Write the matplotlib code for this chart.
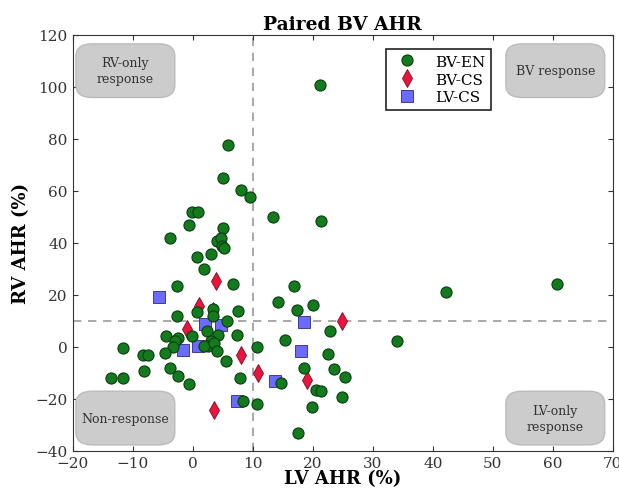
import matplotlib
matplotlib.use("Agg")
import matplotlib.pyplot as plt
from matplotlib.patches import FancyBboxPatch

# LV / RV acute haemodynamic response (%) per group
bv_en_x = [21.2, 5.9, 5.1, 8.0, 9.5, -0.2, 0.9, 13.4, 21.3, -0.7, 5.0, -3.8,
           4.0, 4.7, 4.8, 5.2, 0.7, 3.0, 1.9, 6.7, -2.7, 16.9, 14.2, 17.3,
           20.1, 3.4, 3.4, 7.6, 0.7, -2.7, 5.7, 2.3, -4.5, -0.2, -2.4, -3.0,
           4.2, 7.4, 3.0, 2.6, 1.8, 3.6, 15.3, 10.7, -11.6, -3.3, 4.0, -8.3,
           -7.4, -4.6, 22.5, 5.5, 22.9, -3.8, -8.1, 18.6, 23.5, -2.4, -13.7,
           -11.6, 7.8, 25.4, -0.7, 14.7, 20.6, 21.3, 24.8, 8.3, 10.7, 19.9,
           17.6, 42.2, 60.7, 34.0]
bv_en_y = [100.6, 77.7, 64.8, 60.3, 57.5, 51.7, 51.7, 50.0, 48.5, 46.8, 45.7,
           41.8, 40.5, 41.8, 38.9, 38.0, 34.6, 35.7, 29.9, 24.1, 23.5, 23.2,
           17.3, 14.1, 16.2, 14.5, 11.7, 13.7, 13.2, 11.7, 10.0, 6.2, 4.0,
           4.0, 3.2, 2.3, 4.5, 4.5, 2.3, 0.4, 0.2, 1.3, 2.7, -0.3, -0.5, 0.0,
           -1.8, -3.2, -3.2, -2.4, -3.0, -5.4, 6.1, -8.2, -9.5, -8.2, -8.6,
           -11.2, -12.0, -12.0, -12.0, -11.5, -14.3, -14.0, -16.8, -17.2,
           -19.2, -21.0, -22.0, -23.1, -33.2, 20.9, 24.1, 2.2]

bv_cs_x = [3.9, 1.1, 3.4, -1.0, 8.0, 10.9, 19.1, 24.8, 3.6]
bv_cs_y = [25.1, 15.8, 13.8, 6.8, -3.2, -10.1, -12.7, 10.0, -24.3]

lv_cs_x = [-5.6, 2.0, 4.7, 18.6, 0.9, -1.6, 18.0, 13.7, 7.4]
lv_cs_y = [19.0, 8.7, 8.3, 9.6, 0.4, -1.3, -1.5, -13.3, -21.0]

x_thresh = 10
y_thresh = 10

plt.rcParams['font.family'] = ['DejaVu Serif']
plt.rcParams['xtick.direction'] = 'in'
plt.rcParams['ytick.direction'] = 'in'
plt.rcParams['xtick.top'] = True
plt.rcParams['ytick.right'] = True

fig = plt.figure(figsize=(6.19, 4.89), dpi=100)
ax = fig.add_axes([0.1175, 0.0763, 0.8725, 0.8507])

ax.axvline(x_thresh, color='#999999', ls='--', lw=1.2, dashes=(5, 4), zorder=1)
ax.axhline(y_thresh, color='#999999', ls='--', lw=1.2, dashes=(5, 4), zorder=1)

ax.plot(bv_en_x, bv_en_y, 'o', color='#147a1e', mec='#0b3d0f', mew=0.8,
        ms=8, label='BV-EN', zorder=4)
ax.plot(bv_cs_x, bv_cs_y, 'd', color='#e8163f', mec='#7a0a20', mew=0.6,
        ms=9, label='BV-CS', zorder=3)
ax.plot(lv_cs_x, lv_cs_y, 's', color='#6b6bff', mec='#2a2a80', mew=0.6,
        ms=8, label='LV-CS', zorder=2)

ax.set_xlim(-20, 70)
ax.set_ylim(-40, 120)
ax.set_xticks(range(-20, 71, 10))
ax.set_yticks(range(-40, 121, 20))
ax.tick_params(labelsize=11, colors='#333333', labelcolor='#333333')
for s in ax.spines.values():
    s.set_color('#333333')

ax.set_title('Paired BV AHR', fontsize=13.5, fontweight='bold', pad=4)
ax.set_xlabel('LV AHR (%)', fontsize=13, fontweight='bold', labelpad=0)
ax.set_ylabel('RV AHR (%)', fontsize=13, fontweight='bold', labelpad=4)

# quadrant labels
boxes = [(0.006, 0.844, 'RV-only\nresponse'),
         (0.802, 0.844, 'BV response'),
         (0.006, 0.009, 'Non-response'),
         (0.802, 0.009, 'LV-only\nresponse')]
bw, bh = 0.183, 0.139
for bx, by, txt in boxes:
    p = FancyBboxPatch((bx + 0.02, by + 0.025), bw - 0.04, bh - 0.05,
                       boxstyle='round,pad=0.02,rounding_size=0.03',
                       transform=ax.transAxes, fc='#cccccc', ec='#bbbbbb',
                       lw=1, zorder=5)
    ax.add_patch(p)
    ax.text(bx + bw / 2, by + bh / 2, txt, transform=ax.transAxes,
            ha='center', va='center', fontsize=9, color='#333333', zorder=6,
            linespacing=1.3)

leg = ax.legend(loc='upper left', bbox_to_anchor=(0.566, 0.985), numpoints=1,
                fontsize=11, fancybox=False, framealpha=1, borderpad=0.4,
                handletextpad=0.8, labelspacing=0.25)
leg.get_frame().set_edgecolor('#222222')
leg.get_frame().set_linewidth(1.2)
leg.set_zorder(7)

fig.savefig('out.png', dpi=100)
